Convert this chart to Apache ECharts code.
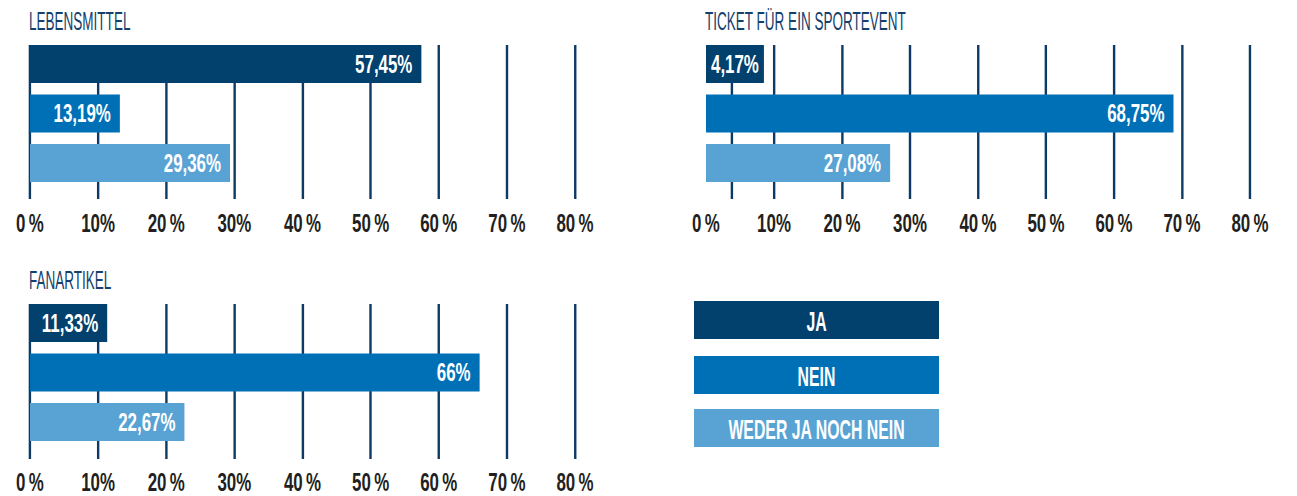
<!DOCTYPE html>
<html>
<head>
<meta charset="utf-8">
<title>Umfrage</title>
<script src="https://cdn.jsdelivr.net/npm/echarts@6/dist/echarts.min.js"></script>
<style>
  html, body { margin: 0; padding: 0; background: #fff; overflow: hidden; }
  #wrap { width: 1297px; height: 496px; overflow: hidden; }
  #chart { height: 496px; transform-origin: 0 0; }
</style>
</head>
<body>
<div id="wrap"><div id="chart"></div></div>
<script>
// Antworten (Reihenfolge von oben nach unten)
var categories = ['JA', 'NEIN', 'WEDER JA NOCH NEIN'];

// Werte in Prozent
var lebensmittel = [57.45, 13.19, 29.36];
var ticket = [4.17, 68.75, 27.08];
var fanartikel = [11.33, 66, 22.67];

// Achsenbeschriftung
var tickLabels = ['0\u2009%', '10%', '20\u2009%', '30%', '40\u2009%', '50\u2009%', '60\u2009%', '70\u2009%', '80\u2009%'];
// im Ticket-Diagramm sitzt die erste Linie nicht auf 0
var ticketLines = [3.8, 10, 20, 30, 40, 50, 60, 70, 80];

var colors = ['#02406d', '#0070b6', '#58a3d4'];
var lineColor = '#0d3a64';
var titleColor = '#15406c';
var font = '"Liberation Sans", Arial, sans-serif';

// keine Condensed-Schrift vorhanden -> ganze Grafik horizontal stauchen
var SX = 0.65;
function px(x) { return x / SX; }

var el = document.getElementById('chart');
el.style.width = px(1297) + 'px';
el.style.transform = 'scaleX(' + SX + ')';

// Panels: Titel, Daten, Lage (in Bildschirm-Pixeln)
var panels = [
    { title: 'LEBENSMITTEL', data: lebensmittel, left: 30, width: 545, top: 45, height: 154, margin: 12 },
    { title: 'TICKET FÜR EIN SPORTEVENT', data: ticket, left: 706, width: 544, top: 45, height: 154, margin: 12, lines: ticketLines },
    { title: 'FANARTIKEL', data: fanartikel, left: 30, width: 545, top: 304, height: 155, margin: 11 }
];

function fmt(v) {
    return String(v).replace('.', ',') + '%';
}

var dom = echarts.init(el, null, { renderer: 'svg' });

var graphics = [], grids = [], xAxes = [], yAxes = [], series = [];

panels.forEach(function (p, i) {
    // Titel (zusaetzlich schmaler als die Zahlen)
    graphics.push({
        type: 'text',
        x: px(p.left - 1),
        y: p.top - 37,
        scaleX: 0.8,
        style: {
            text: p.title,
            fill: titleColor,
            font: '26px ' + font,
            textVerticalAlign: 'top'
        }
    });

    // Balken-Grid (3 Kategorien zu je 49.5px)
    grids.push({ left: px(p.left), width: px(p.width), top: p.top - 5.75, height: 148.5 });
    // Linien-Grid
    grids.push({ left: px(p.left), width: px(p.width), top: p.top, height: p.height });

    xAxes.push({ gridIndex: 2 * i, type: 'value', min: 0, max: 80, show: false });
    yAxes.push({ gridIndex: 2 * i, type: 'category', data: categories, inverse: true, show: false });

    xAxes.push({
        gridIndex: 2 * i + 1,
        type: 'value',
        min: 0,
        max: 80,
        interval: 10,
        axisLine: { show: false },
        axisTick: { show: false },
        splitLine: { show: !p.lines, lineStyle: { color: lineColor, width: px(2.4) } },
        axisLabel: {
            margin: p.margin,
            fontFamily: font,
            fontWeight: 'bold',
            fontSize: 26,
            lineHeight: 25,
            color: '#231f20',
            formatter: function (v) { return tickLabels[Math.round(v / 10)]; }
        }
    });
    yAxes.push({ gridIndex: 2 * i + 1, type: 'value', min: 0, max: 1, show: false });

    if (p.lines) {
        series.push({
            type: 'line',
            xAxisIndex: 2 * i + 1,
            yAxisIndex: 2 * i + 1,
            data: [],
            z: 1,
            silent: true,
            markLine: {
                z: 1,
                silent: true,
                symbol: 'none',
                animation: false,
                label: { show: false },
                lineStyle: { color: lineColor, width: px(2.4), type: 'solid' },
                data: p.lines.map(function (x) { return { xAxis: x }; })
            }
        });
    }

    series.push({
        type: 'bar',
        xAxisIndex: 2 * i,
        yAxisIndex: 2 * i,
        barWidth: 38,
        z: 3,
        animation: false,
        label: {
            show: true,
            position: 'insideRight',
            distance: px(9),
            color: '#fff',
            fontFamily: font,
            fontWeight: 'bold',
            fontSize: 26,
            formatter: function (o) { return fmt(o.value); }
        },
        data: p.data.map(function (v, j) {
            var item = { value: v, itemStyle: { color: colors[j] } };
            // zu kurz fuer die Zahl: Kasten in Balkenfarbe verlaengern
            if (v < 8) {
                item.label = {
                    position: 'insideLeft',
                    distance: 0,
                    backgroundColor: colors[j],
                    padding: [6, px(5), 6, px(5)],
                    lineHeight: 26
                };
            }
            return item;
        })
    });
});

// Legende als Kaesten
categories.forEach(function (c, j) {
    var y = [301, 356, 409][j];
    graphics.push({
        type: 'rect',
        left: px(694),
        top: y,
        shape: { width: px(245), height: 38 },
        style: { fill: colors[j] }
    });
    graphics.push({
        type: 'text',
        x: px(816.5),
        y: y + 20,
        scaleX: 0.87,
        style: {
            text: c,
            fill: '#fff',
            font: 'bold 28px ' + font,
            textAlign: 'center',
            textVerticalAlign: 'middle'
        }
    });
});

var option = {
    backgroundColor: '#fff',
    animation: false,
    grid: grids,
    xAxis: xAxes,
    yAxis: yAxes,
    graphic: graphics,
    series: series
};

dom.setOption(option);
</script>
</body>
</html>
